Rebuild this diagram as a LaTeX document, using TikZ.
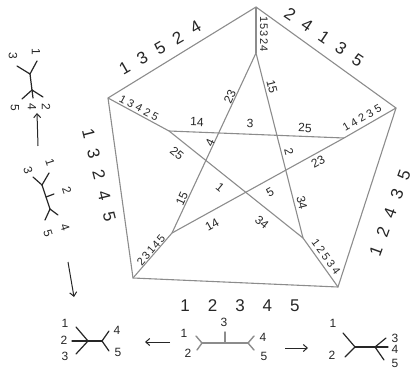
\documentclass[tikz,border=0pt]{standalone}
\usepackage{fontspec}
\setmainfont{Liberation Sans}
\usetikzlibrary{arrows.meta}
\newcommand\fsp[6]{#2\hspace{#1}#3\hspace{#1}#4\hspace{#1}#5\hspace{#1}#6}
\begin{document}
\begin{tikzpicture}[x=1pt,y=-1pt,
  edge/.style={draw=black!45, line width=1.1pt},
  tree/.style={draw=black!85, line width=1.2pt, line cap=round},
  ctree/.style={draw=black!45, line width=1.4pt, line cap=round},
  big/.style={font=\fontsize{17}{17}\selectfont, text=black!85, inner sep=0pt},
  vlab/.style={font=\fontsize{11}{11}\selectfont, text=black!85, inner sep=0pt},
  ilab/.style={font=\fontsize{12}{12}\selectfont, text=black!85, inner sep=0pt},
  tlab/.style={font=\fontsize{12}{12}\selectfont, text=black!85, inner sep=0pt},
  arr/.style={draw=black!85, line width=1pt, -{Straight Barb[length=4pt,width=7pt]}},
]
\useasboundingbox (0,0) rectangle (411,371);
\clip (0,0) rectangle (411,371);

% outer and inner vertices
\coordinate (T) at (256,7);
\coordinate (L) at (108,98);
\coordinate (R) at (396,108);
\coordinate (BL) at (133,278);
\coordinate (BR) at (338,287);
\coordinate (IT) at (256,53);
\coordinate (IL) at (169,131);
\coordinate (IR) at (344,138);
\coordinate (IBL) at (172,233);
\coordinate (IBR) at (303,238);

\path[edge] (T) -- (R) -- (BR) -- (BL) -- (L) -- cycle;
\path[edge] (T) -- (IT);
\path[edge] (L) -- (IL);
\path[edge] (R) -- (IR);
\path[edge] (BL) -- (IBL);
\path[edge] (BR) -- (IBR);
\path[edge] (IT) -- (IBL);
\path[edge] (IT) -- (IBR);
\path[edge] (IL) -- (IR);
\path[edge] (IL) -- (IBR);
\path[edge] (IR) -- (IBL);

% outer edge labels
\node[big, rotate=30] (e1) at (160,48) {\fsp{11pt}13524};
\node[big, rotate=-34] (e2) at (324,37) {\fsp{11pt}24135};
\node[big, rotate=-76] (e3) at (99,175) {\fsp{12pt}13245};
\node[big, rotate=70] (e4) at (390,213) {\fsp{11pt}12435};
\node[big] (e5) at (240,306) {\fsp{18pt}12345};

% vertex labels
\node[vlab, rotate=-90] (v1) at (264,34) {\fsp{1pt}15324};
\node[vlab, rotate=-28] (v2) at (139,108) {\fsp{3pt}13425};
\node[vlab, rotate=30] (v3) at (362,118) {\fsp{3pt}14235};
\node[vlab, rotate=49] (v4) at (151,250) {\fsp{1.5pt}23145};
\node[vlab, rotate=-54] (v5) at (326,257) {\fsp{2.5pt}12534};

% inner labels
\node[ilab, rotate=-2] (a1) at (197,122) {14};
\node[ilab, rotate=-2] (a2) at (250,123) {3};
\node[ilab, rotate=-2] (a3) at (305,128) {25};
\node[ilab, rotate=65] (b1l) at (230,97) {23};
\node[ilab, rotate=65] (b2l) at (210,143) {4};
\node[ilab, rotate=65] (b3l) at (182,199) {15};
\node[ilab, rotate=-76] (c1l) at (272,87) {15};
\node[ilab, rotate=-76] (c2l) at (289,152) {2};
\node[ilab, rotate=-76] (c3l) at (302,203) {34};
\node[ilab, rotate=-39] (d1l) at (177,153) {25};
\node[ilab, rotate=-39] (d2l) at (220,187) {1};
\node[ilab, rotate=-39] (d3l) at (262,222) {34};
\node[ilab, rotate=29] (f1l) at (212,225) {14};
\node[ilab, rotate=29] (f2l) at (270,192) {5};
\node[ilab, rotate=29] (f3l) at (318,162) {23};

% tree 1 (top left)
\coordinate (ta) at (30,74);
\coordinate (tb) at (32,90);
\coordinate (tl3) at (17,66);
\coordinate (tl1) at (37,61);
\coordinate (tl5) at (22,99);
\coordinate (tl4) at (33,98);
\coordinate (tl2) at (43,97);
\path[tree] (tl3) -- (ta) -- (tl1);
\path[tree] (ta) -- (tb);
\path[tree] (tl5) -- (tb) -- (tl2);
\path[tree] (tb) -- (tl4);
\node[tlab, rotate=-90] (t3) at (13,56) {3};
\node[tlab, rotate=-90] (t1) at (36,52) {1};
\node[tlab, rotate=-90] (t5) at (15,108) {5};
\node[tlab, rotate=-90] (t4) at (32,107) {4};
\node[tlab, rotate=-90] (t2) at (46,107) {2};

% tree 2 (left caterpillar)
\coordinate (ua) at (42,185);
\coordinate (ub) at (50,209);
\coordinate (um) at (46,197);
\coordinate (umb) at (54,194);
\coordinate (ul3) at (33,177);
\coordinate (ul1) at (49,173);
\coordinate (ul5) at (45,220);
\coordinate (ul4) at (58,215);
\path[tree] (ul3) -- (ua) -- (ul1);
\path[tree] (ua) -- (ub);
\path[tree] (um) -- (umb);
\path[tree] (ul5) -- (ub) -- (ul4);
\node[tlab, rotate=-72] (u1) at (50,162) {1};
\node[tlab, rotate=-72] (u3) at (28,170) {3};
\node[tlab, rotate=-72] (u2) at (67,190) {2};
\node[tlab, rotate=-72] (u4) at (65,227) {4};
\node[tlab, rotate=-72] (u5) at (48,233) {5};

% tree 3 (bottom left)
\coordinate (p1) at (88,341);
\coordinate (p2) at (102,341);
\coordinate (pl1) at (76,327);
\coordinate (pl2) at (72,341);
\coordinate (pl3) at (76,354);
\coordinate (pl4) at (109,331);
\coordinate (pl5) at (109,351);
\path[tree] (pl1) -- (p1) -- (pl3);
\path[tree] (pl2) -- (p1) -- (p2);
\path[tree] (pl4) -- (p2) -- (pl5);
\node[tlab] (q1) at (65,323) {1};
\node[tlab] (q2) at (64,340) {2};
\node[tlab] (q3) at (65,356) {3};
\node[tlab] (q4) at (117,330) {4};
\node[tlab] (q5) at (118,352) {5};

% tree 4 (bottom centre)
\coordinate (c1) at (202,343);
\coordinate (c2) at (248,343);
\coordinate (cm) at (225,343);
\coordinate (cmt) at (225,332);
\coordinate (cl1) at (196,336);
\coordinate (cl2) at (197,350);
\coordinate (cl4) at (254,336);
\coordinate (cl5) at (254,350);
\path[ctree] (cl1) -- (c1) -- (cl2);
\path[ctree] (c1) -- (c2);
\path[ctree] (cm) -- (cmt);
\path[ctree] (cl4) -- (c2) -- (cl5);
\node[tlab] (r1) at (184,333) {1};
\node[tlab] (r2) at (188,353) {2};
\node[tlab] (r3) at (224,322) {3};
\node[tlab] (r4) at (263,337) {4};
\node[tlab] (r5) at (264,356) {5};

% tree 5 (bottom right)
\coordinate (d1) at (355,347);
\coordinate (d2) at (375,347);
\coordinate (dl1) at (343,333);
\coordinate (dl2) at (345,357);
\coordinate (dl3) at (386,338);
\coordinate (dl4) at (388,347);
\coordinate (dl5) at (384,360);
\path[tree] (dl1) -- (d1) -- (dl2);
\path[tree] (d1) -- (d2);
\path[tree] (dl3) -- (d2) -- (dl5);
\path[tree] (d2) -- (dl4);
\node[tlab] (s1) at (333,323) {1};
\node[tlab] (s2) at (332,355) {2};
\node[tlab] (s3) at (395,338) {3};
\node[tlab] (s4) at (395,349) {4};
\node[tlab] (s5) at (395,363) {5};

% arrows
\coordinate (upA) at (38,146);
\coordinate (upB) at (37,113);
\coordinate (dnA) at (68,262);
\coordinate (dnB) at (74,297);
\coordinate (lfA) at (170,342);
\coordinate (lfB) at (145,342);
\coordinate (rtA) at (285,348);
\coordinate (rtB) at (308,348);
\path[arr] (upA) -- (upB);
\path[arr] (dnA) -- (dnB);
\path[arr] (lfA) -- (lfB);
\path[arr] (rtA) -- (rtB);
\end{tikzpicture}
\end{document}
